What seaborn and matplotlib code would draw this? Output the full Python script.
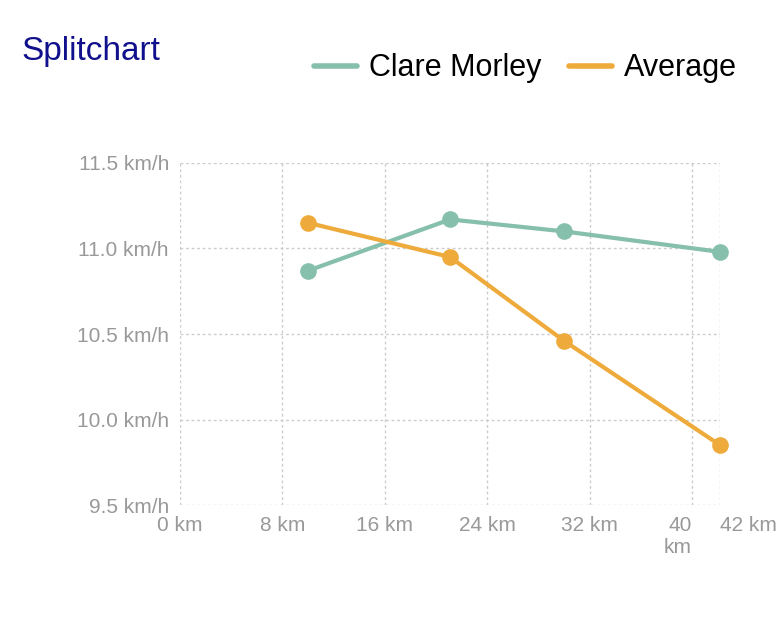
import matplotlib
matplotlib.use("Agg")
import matplotlib.pyplot as plt
from matplotlib.lines import Line2D
import seaborn as sns
import pandas as pd

# data
distances = [10, 21.1, 30, 42.195]
clare = [10.87, 11.17, 11.10, 10.98]
average = [11.15, 10.95, 10.46, 9.85]
x_ticks = [0, 8, 16, 24, 32, 40, 42.195]
x_labels = ["0 km", "8 km", "16 km", "24 km", "32 km", "40\nkm", "42 km"]
y_ticks = [9.5, 10.0, 10.5, 11.0, 11.5]

df = pd.DataFrame({"km": distances * 2,
                   "speed": clare + average,
                   "who": ["Clare Morley"] * 4 + ["Average"] * 4})

sns.set_style("white")
plt.rcParams["font.family"] = ["Liberation Sans", "DejaVu Sans"]

fig = plt.figure(figsize=(7.76, 6.22), dpi=100)
ax = fig.add_axes([0.232, 0.188, 0.696, 0.55])
sns.lineplot(data=df, x="km", y="speed", hue="who", marker="o",
             palette={"Clare Morley": "#86bfab", "Average": "#eeaa3a"},
             linewidth=3, markersize=12, markeredgewidth=0, ax=ax, legend=False)
for ln in ax.lines:
    ln.set_clip_on(False)

ax.set_xlim(0, 42.195)
ax.set_ylim(9.5, 11.5)
ax.set_xticks(x_ticks)
ax.set_xticklabels(x_labels, color="#999999", fontsize=15, va="top")
# 40 km label sits just left of its tick, like the reference
lbls = ax.get_xticklabels()
lbls[5].set_ha("right")
lbls[5].set_x(0)
lbls[6].set_ha("left")
ax.set_yticks(y_ticks)
ax.set_yticklabels([f"{v:.1f} km/h" for v in y_ticks], color="#999999", fontsize=15)
ax.tick_params(length=0, pad=8)
ax.grid(True, linestyle=(0, (2, 2)), color="#cccccc", linewidth=1)
for s in ax.spines.values():
    s.set_visible(False)
ax.set_xlabel("")
ax.set_ylabel("")

fig.text(0.028, 0.918, "Splitchart", color="#10108c", fontsize=24, va="center")
handles = [Line2D([], [], color="#86bfab", lw=4), Line2D([], [], color="#eeaa3a", lw=4)]
fig.legend(handles, ["Clare Morley", "Average"], loc="center right",
           bbox_to_anchor=(0.985, 0.89), ncol=2, frameon=False, fontsize=22,
           handlelength=1.4, handletextpad=0.4, columnspacing=0.9, labelcolor="black")

fig.savefig("out.png", dpi=100)
